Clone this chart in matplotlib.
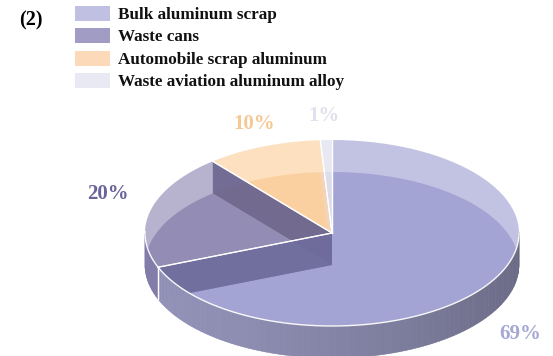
import numpy as np
import matplotlib.pyplot as plt
from matplotlib.patches import Polygon, Rectangle

# Shares of recycled aluminium sources (%)
labels = ["Bulk aluminum scrap", "Waste cans", "Automobile scrap aluminum",
          "Waste aviation aluminum alloy"]
shares = [69, 20, 10, 1]
pct_text = ["69%", "20%", "10%", "1%"]

# face / wall / legend / label colours per slice
face_rgb = [(135, 135, 199), (112, 104, 158), (250, 194, 130), (210, 210, 230)]
wall_light = [(146, 146, 184), (130, 124, 168), (238, 186, 135), (205, 205, 225)]
wall_dark = [(104, 104, 130), (112, 106, 150), (215, 160, 110), (185, 185, 205)]
cut_rgb = [(100, 104, 126), (86, 80, 112), None, None]
legend_rgb = [(192, 192, 226), (160, 156, 196), (252, 217, 184), (233, 233, 243)]
label_rgb = [(165, 168, 210), (105, 100, 152), (245, 200, 150), (225, 225, 238)]
label_pos = [(520, 334), (108, 194), (254, 124), (324, 116)]

# pie geometry in pixel units
CX, CY, RX, RY, H = 332, 233, 187, 93, 32
FACE_ALPHA = 0.5


def rgb(c, a=1.0):
    return (c[0] / 255, c[1] / 255, c[2] / 255, a)


def pt(theta, z=0.0, r=1.0):
    t = np.radians(theta)
    return (CX + r * RX * np.cos(t), CY - r * RY * np.sin(t) + z)


def arc(t0, t1, z=0.0, n=80):
    ts = np.linspace(t0, t1, n)
    return [pt(t, z) for t in ts]


def shade(i, theta):
    # lighter toward the left, darker toward the right
    s = 0.5 + 0.5 * np.cos(np.radians(theta - 200))
    lo, hi = np.array(wall_dark[i]), np.array(wall_light[i])
    return tuple(lo + (hi - lo) * s)


fig = plt.figure(figsize=(5.53, 3.56), dpi=100)
ax = fig.add_axes([0, 0, 1, 1])
ax.set_xlim(0, 553)
ax.set_ylim(356, 0)
ax.axis("off")

font = ["Liberation Serif", "DejaVu Serif"]
white_edge = (1, 1, 1, 0.95)
centre_top, centre_bot = pt(0, 0, r=0), pt(0, H, r=0)

start = 90.0
for i, s in enumerate(shares):
    t0 = start
    t1 = start - 360.0 * s / 100.0
    start = t1
    fc = rgb(face_rgb[i], FACE_ALPHA)

    # bottom face
    ax.add_patch(Polygon([centre_bot] + arc(t0, t1, H), closed=True,
                         facecolor=fc, edgecolor="none", zorder=1))

    # front part of the curved wall, in strips so the shading varies
    ts = np.linspace(t0, t1, max(4, int(abs(t1 - t0) / 2) + 2))
    for ta, tb in zip(ts[:-1], ts[1:]):
        tm = 0.5 * (ta + tb)
        if np.sin(np.radians(tm)) >= 0:
            continue
        c = rgb(shade(i, tm))
        ax.add_patch(Polygon([pt(ta), pt(tb), pt(tb, H), pt(ta, H)], closed=True,
                             facecolor=c, edgecolor=c, lw=0.4, zorder=5))

    # cut walls along the radial edges
    if cut_rgb[i] is not None:
        for t in (t0, t1):
            quad = [centre_top, pt(t), pt(t, H), centre_bot]
            ax.add_patch(Polygon(quad, closed=True, facecolor=rgb(cut_rgb[i], 0.8),
                                 edgecolor="none", zorder=3))
            if np.sin(np.radians(t)) < 0:
                x, y = pt(t)
                ax.plot([x, x], [y, y + H], color=white_edge, lw=0.9, zorder=6)

    # top face
    ax.add_patch(Polygon([centre_top] + arc(t0, t1), closed=True, facecolor=fc,
                         edgecolor="none", zorder=4))

    # white rims: radial edges and the front arc
    for t in (t0, t1):
        x, y = pt(t)
        ax.plot([centre_top[0], x], [centre_top[1], y], color=white_edge,
                lw=0.9, zorder=6)
    front = [p for t, p in zip(np.linspace(t0, t1, 200), arc(t0, t1, n=200))
             if np.sin(np.radians(t)) < 0.02]
    if front:
        xs, ys = zip(*front)
        ax.plot(xs, ys, color=white_edge, lw=1.0, zorder=6)

    ax.text(*label_pos[i], pct_text[i], color=rgb(label_rgb[i]), fontsize=15,
            fontweight="bold", family=font, ha="center", va="center", zorder=7)

# legend block
ax.text(19, 20, "(2)", fontsize=14.5, fontweight="bold", family=font,
        ha="left", va="center", color="black")
for i, name in enumerate(labels):
    yc = 13.5 + 22.3 * i
    ax.add_patch(Rectangle((75, yc - 7.5), 35, 15, facecolor=rgb(legend_rgb[i]),
                           edgecolor="none"))
    ax.text(118, yc + 1.5, name, fontsize=12.3, fontweight="bold", family=font,
            ha="left", va="center", color="#111111")

fig.savefig("out.png", dpi=100)
